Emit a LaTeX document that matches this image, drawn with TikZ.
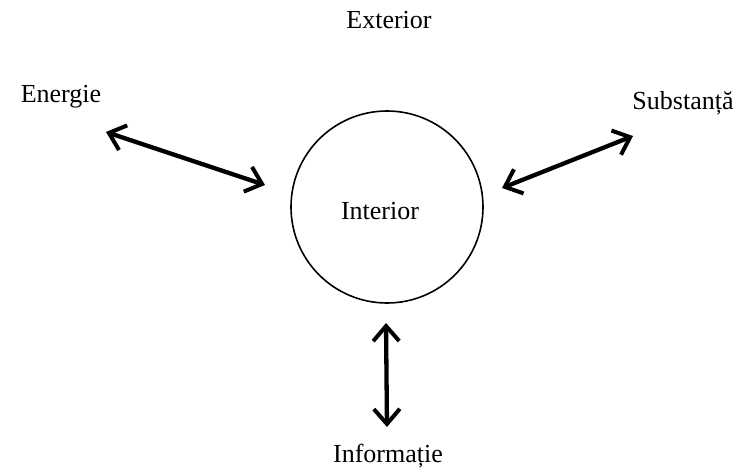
\documentclass[tikz,border=0pt]{standalone}
\usepackage{fontspec}
\setmainfont{Liberation Serif}
\usepackage{tikz}
\usetikzlibrary{positioning}
\usetikzlibrary{arrows.meta}

\tikzset{
  lbl/.style={font=\fontsize{26}{30}\selectfont},
  flux/.style={{Straight Barb[length=15pt,width=26pt,line width=4pt]}-{Straight Barb[length=15pt,width=26pt,line width=4pt]}, black, line width=4.3pt}
}

\begin{document}
\begin{tikzpicture}[x=1pt,y=-1pt]

\useasboundingbox (0,0) rectangle (752,471);

\node[draw, circle, line width=1.6pt, minimum size=192pt, inner sep=0pt] (interior) at (387,207) {};
\node[lbl] (int) at (380,211) {Interior};

\node[lbl] (ext) at (389,20) {Exterior};
\node[lbl] (energie) at (61,97) {Energie};
\node[lbl] (subst) at (683,103) {Substanță};
\node[lbl] (info) at (388,456) {Informație};

\coordinate (e1) at (106,132);
\coordinate (e2) at (265,185);
\coordinate (s1) at (633,136);
\coordinate (s2) at (502,188);
\coordinate (i1) at (386,323);
\coordinate (i2) at (387,427);

\draw[flux] (e1) -- (e2);
\draw[flux] (s1) -- (s2);
\draw[flux] (i1) -- (i2);

\end{tikzpicture}
\end{document}
